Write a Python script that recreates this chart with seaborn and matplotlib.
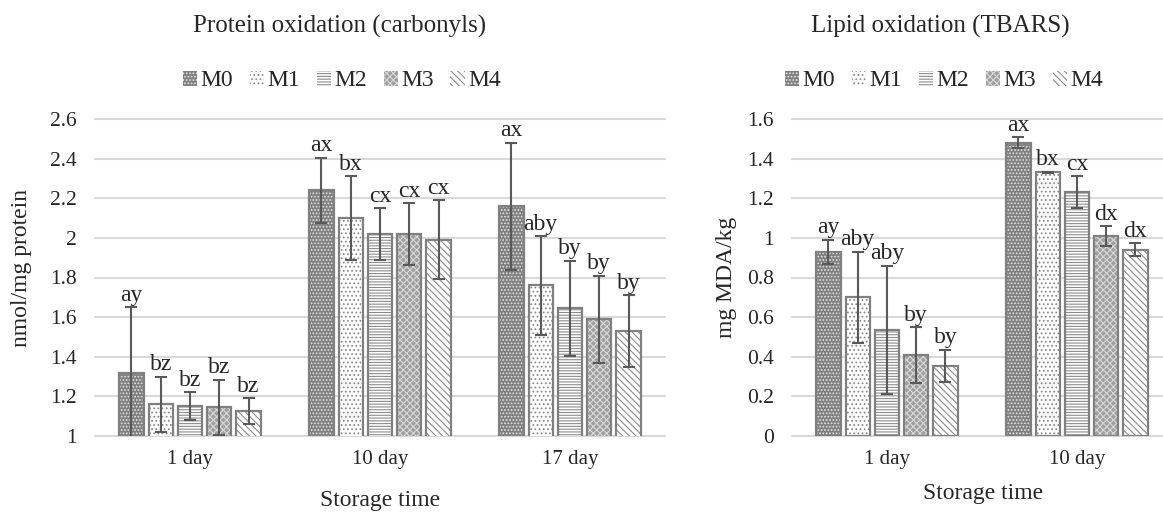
import matplotlib
matplotlib.use('Agg')
import matplotlib.pyplot as plt
from matplotlib.patches import Rectangle, Patch
from matplotlib.ticker import FuncFormatter
import pandas as pd
import seaborn as sns

samples = ['M0', 'M1', 'M2', 'M3', 'M4']

# protein oxidation (carbonyls), nmol/mg protein
prot_days = ['1 day', '10 day', '17 day']
prot_mean = [[1.32, 2.24, 2.16],
             [1.16, 2.10, 1.76],
             [1.15, 2.02, 1.645],
             [1.145, 2.02, 1.59],
             [1.125, 1.99, 1.53]]
prot_err = [[0.33, 0.165, 0.32],
            [0.14, 0.21, 0.25],
            [0.07, 0.13, 0.24],
            [0.14, 0.155, 0.22],
            [0.065, 0.20, 0.18]]
prot_lab = [['ay', 'ax', 'ax'],
            ['bz', 'bx', 'aby'],
            ['bz', 'cx', 'by'],
            ['bz', 'cx', 'by'],
            ['bz', 'cx', 'by']]

# lipid oxidation (TBARS), mg MDA/kg
lip_days = ['1 day', '10 day']
lip_mean = [[0.93, 1.48],
            [0.70, 1.33],
            [0.535, 1.23],
            [0.41, 1.01],
            [0.355, 0.94]]
lip_err = [[0.06, 0.027],
           [0.23, 0.005],
           [0.325, 0.08],
           [0.14, 0.05],
           [0.08, 0.033]]
lip_lab = [['ay', 'ax'],
           ['aby', 'bx'],
           ['aby', 'cx'],
           ['by', 'dx'],
           ['by', 'dx']]

fills = ['#808080', 'white', 'white', '#a0a0a0', 'white']
hatch_cols = ['#e6e6e6', '#8c8c8c', '#8c8c8c', '#d8d8d8', '#8c8c8c']
hatches = ['.....', '....', '------', 'xxxxx', '\\\\\\\\\\']

sns.set_style('white')
plt.rcParams['font.family'] = ['Liberation Serif', 'DejaVu Serif']
plt.rcParams['hatch.linewidth'] = 0.8


def to_long(days, mean):
    rows = []
    for i, s in enumerate(samples):
        for j, d in enumerate(days):
            rows.append({'day': d, 'sample': s, 'value': mean[i][j]})
    return pd.DataFrame(rows)


def draw(ax, days, mean, err, labs, ylim, step, ylabel):
    df = to_long(days, mean)
    sns.barplot(data=df, x='day', y='value', hue='sample', order=days,
                hue_order=samples, palette=fills, saturation=1,
                width=0.77, gap=0.17, errorbar=None, legend=False, ax=ax)
    bars = list(ax.containers)
    for i, cont in enumerate(bars):
        xs, ys = [], []
        for p in cont.patches:
            p.set_hatch(hatches[i])
            p.set_edgecolor(hatch_cols[i])
            p.set_linewidth(0)
            ax.add_patch(Rectangle((p.get_x(), p.get_y()), p.get_width(),
                                   p.get_height(), fill=False,
                                   ec='#808080', lw=1.6, zorder=3))
            xs.append(p.get_x() + p.get_width() / 2)
            ys.append(p.get_height())
        ax.errorbar(xs, ys, yerr=err[i], fmt='none', ecolor='#595959',
                    elinewidth=1.5, capsize=4.5, capthick=1.5, zorder=4)
        for j in range(len(xs)):
            ax.annotate(labs[i][j], (xs[j], ys[j] + err[i][j]),
                        xytext=(0, 1), textcoords='offset points',
                        ha='center', va='bottom', fontsize=17)
    ax.set_ylim(*ylim)
    n = int(round((ylim[1] - ylim[0]) / step))
    ax.set_yticks([ylim[0] + k * step for k in range(n + 1)])
    ax.yaxis.set_major_formatter(FuncFormatter(lambda v, _: f'{v:g}'))
    ax.grid(axis='y', color='#d9d9d9', lw=1.5)
    for gl in ax.get_ygridlines():
        gl.set_clip_on(False)
    ax.set_axisbelow(True)
    sns.despine(ax=ax, left=True, bottom=True)
    ax.tick_params(axis='y', length=0, pad=13, labelsize=15.5)
    ax.tick_params(axis='x', length=0, pad=10, labelsize=15)
    ax.set_ylabel(ylabel, fontsize=17)
    ax.set_xlabel('Storage time', fontsize=17)


fig = plt.figure(figsize=(11.63, 5.12), dpi=100)
ax1 = fig.add_axes([95 / 1163, 76 / 512, 570 / 1163, 317 / 512])
ax2 = fig.add_axes([792 / 1163, 76 / 512, 371 / 1163, 317 / 512])

draw(ax1, prot_days, prot_mean, prot_err, prot_lab, (1, 2.6), 0.2,
     'nmol/mg protein')
ax1.set_xlim(-0.5, 2.5)
ax1.yaxis.set_label_coords(-0.11, 0.53)
ax1.xaxis.set_label_coords(0.5, -0.17)

draw(ax2, lip_days, lip_mean, lip_err, lip_lab, (0, 1.6), 0.2,
     'mg MDA/kg')
ax2.set_xlim(-0.5, 1.453)
ax2.yaxis.set_label_coords(-0.148, 0.5)
ax2.xaxis.set_label_coords(0.515, -0.148)

handles = [Patch(facecolor=fills[i], edgecolor=hatch_cols[i],
                 hatch=hatches[i], linewidth=0) for i in range(5)]
for ax, cx in [(ax1, 0.433), (ax2, 0.41)]:
    ax.legend(handles, samples, loc='center', bbox_to_anchor=(cx, 1.12),
              ncol=5, frameon=False, fontsize=17, handlelength=0.6,
              handleheight=0.6, handletextpad=0.15, columnspacing=0.7,
              borderaxespad=0)

fig.text(340 / 1163, 1 - 26 / 512, 'Protein oxidation (carbonyls)',
         ha='center', va='center', fontsize=18)
fig.text(940 / 1163, 1 - 26 / 512, 'Lipid oxidation (TBARS)',
         ha='center', va='center', fontsize=18)

fig.savefig('out.png', dpi=100)
